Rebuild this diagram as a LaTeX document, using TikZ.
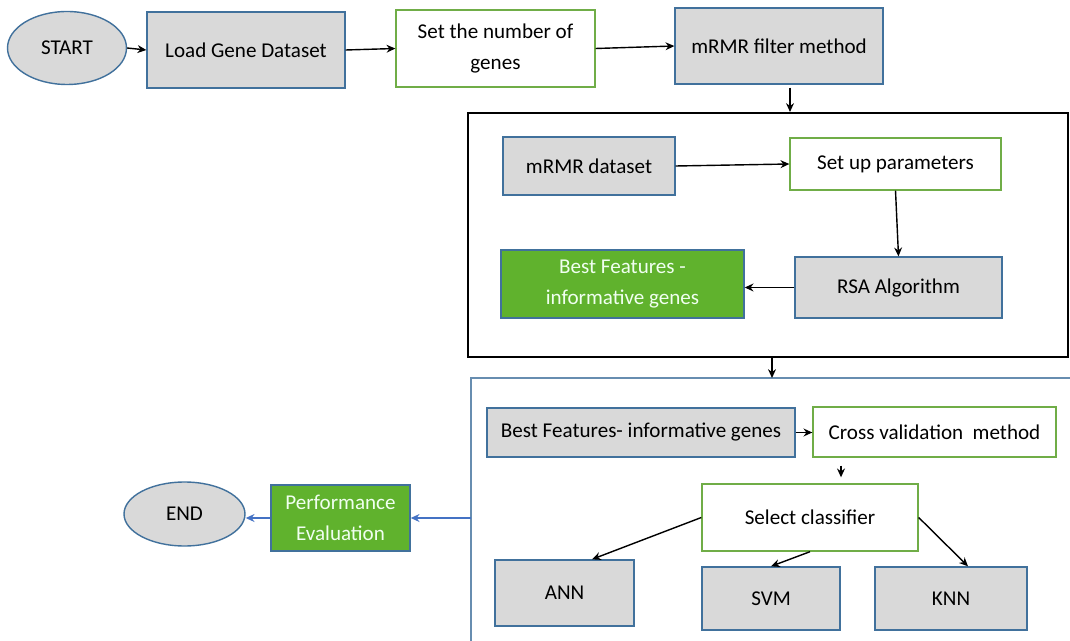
\documentclass[tikz,border=0pt]{standalone}
\usepackage{fontspec}
\setmainfont{Carlito}
\usetikzlibrary{arrows.meta,positioning,shapes.geometric}
\definecolor{boxblue}{RGB}{65,113,156}
\definecolor{boxgray}{RGB}{217,217,217}
\definecolor{boxgreen}{RGB}{112,173,71}
\definecolor{fillgreen}{RGB}{96,178,45}
\definecolor{arrowblue}{RGB}{68,114,196}

\begin{document}
\begin{tikzpicture}[x=0.02cm,y=-0.02cm,gbox/.style={draw=boxblue,fill=boxgray,line width=.8pt,align=center,inner sep=2pt,font=\fontsize{12}{17.5}\selectfont},wbox/.style={gbox,draw=boxgreen,fill=white},sbox/.style={gbox,fill=fillgreen,text=green!6!white},term/.style={gbox,ellipse},arr/.style={-{Stealth[length=5pt,width=4.5pt]},line width=.8pt},barr/.style={arr,draw=arrowblue}]
\useasboundingbox (0,0) rectangle (1070,641);

% top row
\node[term,minimum width=2.38cm,minimum height=1.46cm] (start) at(67,48) {START};
\node[gbox,minimum width=3.96cm,minimum height=1.52cm] (load) at(246,50) {Load Gene Dataset};
\node[wbox,minimum width=3.98cm,minimum height=1.54cm] (number) at(495.5,48.5) {Set the number of\\genes};
\node[gbox,minimum width=4.16cm,minimum height=1.52cm] (mrmr) at(779,46) {mRMR filter method};

% first stage
\node[draw,line width=1.2pt,minimum width=12cm,minimum height=4.88cm] (stage1) at(768,235) {};
\node[gbox,minimum width=3.44cm,minimum height=1.16cm] (mdata) at(589,166) {mRMR dataset};
\node[wbox,minimum width=4.22cm,minimum height=1.04cm] (setup) at(895.5,164) {Set up parameters};
\node[gbox,minimum width=4.14cm,minimum height=1.22cm] (rsa) at(898.5,287.5) {RSA Algorithm};
\node[sbox,minimum width=4.86cm,minimum height=1.36cm] (best) at(622.5,284) {Best Features -\\informative genes};

% second stage
\coordinate (stage2) at(471,378);
\draw[draw=boxblue!80,line width=.8pt] (471,641) -- (stage2) -- (1070,378);
\node[gbox,minimum width=6.16cm,minimum height=.98cm] (bestb) at(641,432.5) {Best Features- informative genes};
\node[wbox,minimum width=4.86cm,minimum height=1cm] (cv) at(934.5,432) {Cross validation\ \ method};
\node[wbox,minimum width=4.32cm,minimum height=1.34cm] (select) at(810,517.5) {Select classifier};
\node[gbox,minimum width=2.78cm,minimum height=1.32cm] (ann) at(564.5,593) {ANN};
\node[gbox,minimum width=2.76cm,minimum height=1.26cm] (svm) at(771,598.5) {SVM};
\node[gbox,minimum width=3.04cm,minimum height=1.26cm] (knn) at(951,598.5) {KNN};

% evaluation
\node[sbox,minimum width=2.78cm,minimum height=1.32cm] (perf) at(340.5,518) {Performance\\Evaluation};
\node[term,minimum width=2.42cm,minimum height=1.28cm] (end) at(184.5,514) {END};

\draw[arr] (start.east) -- (load.west);
\draw[arr] (load.east) -- (number.west);
\draw[arr] (number.east) -- (mrmr.west);
\draw[arr] ([xshift=.22cm,yshift=-.06cm]mrmr.south) -- ([xshift=.22cm]mrmr.south |- stage1.north);
\draw[arr] (mdata.east) -- (setup.west);
\draw[arr] (setup.south) -- (rsa.north);
\draw[arr] (rsa.west) -- (rsa.west -| best.east);
\draw[arr] ([xshift=.08cm]stage1.south) -- ([xshift=.08cm]stage1.south |- stage2);
\draw[arr] (bestb.east) -- (bestb.east -| cv.west);
\draw[arr,shorten <=.16cm,shorten >=.12cm] (cv.south -| 841,0) -- (select.north -| 841,0);
\draw[arr] (select.west) -- ([xshift=.55cm]ann.north);
\draw[arr] (select.south) -- (svm.north);
\draw[arr] (select.east) -- ([xshift=.34cm]knn.north);
\draw[barr] (stage2 |- perf.east) -- (perf.east);
\draw[barr] (perf.west) -- (perf.west -| end.east);
\end{tikzpicture}
\end{document}
